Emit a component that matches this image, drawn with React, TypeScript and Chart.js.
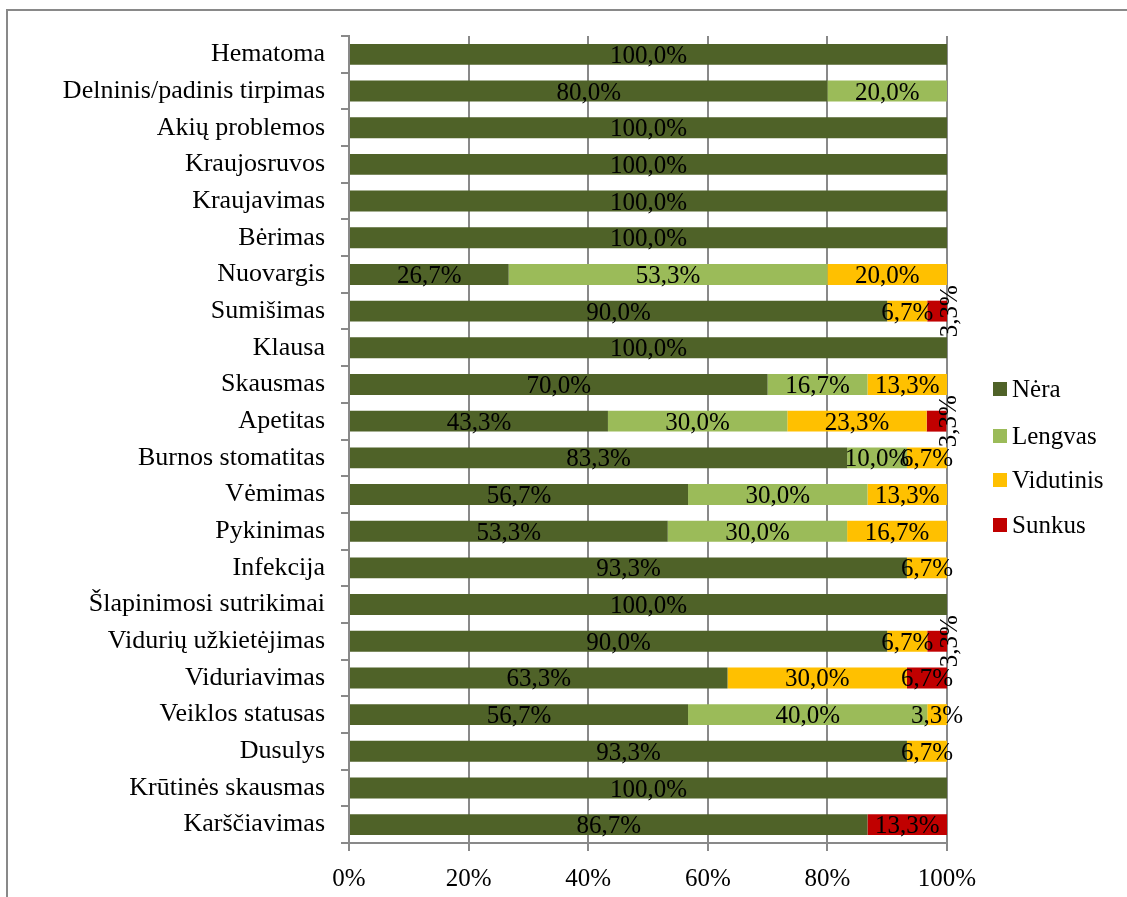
import React, { useEffect, useRef } from 'react';
import { Chart, registerables } from 'chart.js';

Chart.register(...registerables);

const categories = [
  'Hematoma',
  'Delninis/padinis tirpimas',
  'Akių problemos',
  'Kraujosruvos',
  'Kraujavimas',
  'Bėrimas',
  'Nuovargis',
  'Sumišimas',
  'Klausa',
  'Skausmas',
  'Apetitas',
  'Burnos stomatitas',
  'Vėmimas',
  'Pykinimas',
  'Infekcija',
  'Šlapinimosi sutrikimai',
  'Vidurių užkietėjimas',
  'Viduriavimas',
  'Veiklos statusas',
  'Dusulys',
  'Krūtinės skausmas',
  'Karščiavimas',
];

const nera = [100, 80, 100, 100, 100, 100, 26.7, 90, 100, 70, 43.3, 83.3, 56.7, 53.3, 93.3, 100, 90, 63.3, 56.7, 93.3, 100, 86.7];
const lengvas = [0, 20, 0, 0, 0, 0, 53.3, 0, 0, 16.7, 30, 10, 30, 30, 0, 0, 0, 0, 40, 0, 0, 0];
const vidutinis = [0, 0, 0, 0, 0, 0, 20, 6.7, 0, 13.3, 23.3, 6.7, 13.3, 16.7, 6.7, 0, 6.7, 30, 3.3, 6.7, 0, 0];
const sunkus = [0, 0, 0, 0, 0, 0, 0, 3.3, 0, 0, 3.3, 0, 0, 0, 0, 0, 3.3, 6.7, 0, 0, 0, 13.3];

const seriesNames = ['Nėra', 'Lengvas', 'Vidutinis', 'Sunkus'];
const seriesColors = ['#4F6228', '#9BBB59', '#FFC000', '#C00000'];
const xTickValues = [0, 20, 40, 60, 80, 100];

const FONT = '"Liberation Serif", "Times New Roman", serif';
const W = 1127;
const H = 897;

export default function App() {
  const ref = useRef<HTMLCanvasElement | null>(null);

  useEffect(() => {
    if (!ref.current) return;
    const seriesData = [nera, lengvas, vidutinis, sunkus];

    const framePlugin = {
      id: 'frame',
      beforeDraw(chart: any) {
        const ctx = chart.ctx;
        ctx.save();
        ctx.fillStyle = '#ffffff';
        ctx.fillRect(0, 0, chart.width, chart.height);
        ctx.strokeStyle = '#898989';
        ctx.lineWidth = 2;
        ctx.beginPath();
        ctx.moveTo(7, H + 5);
        ctx.lineTo(7, 10);
        ctx.lineTo(W + 5, 10);
        ctx.stroke();
        ctx.restore();
      },
    };

    const labelPlugin = {
      id: 'segLabels',
      afterDatasetsDraw(chart: any) {
        const ctx = chart.ctx;
        ctx.save();
        ctx.font = `25px ${FONT}`;
        ctx.fillStyle = '#000';
        ctx.textAlign = 'center';
        ctx.textBaseline = 'middle';
        chart.data.datasets.forEach((ds: any, i: number) => {
          const meta = chart.getDatasetMeta(i);
          meta.data.forEach((bar: any, j: number) => {
            const v = ds.data[j];
            if (!v) return;
            const p = bar.getProps(['x', 'y', 'base'], true);
            const cx = (p.x + p.base) / 2;
            const text = v.toFixed(1).replace('.', ',') + '%';
            if (i === 3 && v < 5) {
              ctx.save();
              ctx.translate(cx + 13, p.y);
              ctx.rotate(-Math.PI / 2);
              ctx.fillText(text, 0, 0);
              ctx.restore();
            } else {
              ctx.fillText(text, cx, p.y + 2);
            }
          });
        });
        ctx.restore();
      },
    };

    const legendPlugin = {
      id: 'customLegend',
      afterDraw(chart: any) {
        const ctx = chart.ctx;
        ctx.save();
        ctx.font = `25px ${FONT}`;
        ctx.textBaseline = 'middle';
        ctx.textAlign = 'left';
        const ys = [389, 436, 480, 525];
        seriesNames.forEach((n, i) => {
          ctx.fillStyle = seriesColors[i];
          ctx.fillRect(993, ys[i] - 7, 14, 14);
          ctx.fillStyle = '#000';
          ctx.fillText(n, 1012, ys[i] + 1);
        });
        ctx.restore();
      },
    };

    const chart = new Chart(ref.current, {
      type: 'bar',
      data: {
        labels: categories,
        datasets: seriesData.map((d, i) => ({
          label: seriesNames[i],
          data: d,
          backgroundColor: seriesColors[i],
          borderWidth: 0,
          barPercentage: 0.57,
          categoryPercentage: 1,
        })),
      },
      options: {
        indexAxis: 'y',
        responsive: false,
        animation: false,
        layout: { padding: { left: 0, right: 180, top: 36, bottom: 0 } },
        plugins: {
          legend: { display: false },
          tooltip: { enabled: false },
        },
        scales: {
          x: {
            stacked: true,
            min: 0,
            max: 100,
            afterBuildTicks(scale: any) {
              scale.ticks = xTickValues.map((v) => ({ value: v }));
            },
            afterFit(scale: any) {
              scale.height = 54;
            },
            ticks: {
              callback: (v: any) => `${v}%`,
              color: '#000',
              font: { family: FONT, size: 25 },
              padding: 13,
              maxRotation: 0,
            },
            grid: { color: '#898989', lineWidth: 2, tickLength: 8 },
            border: { color: '#898989', width: 2 },
          },
          y: {
            stacked: true,
            afterFit(scale: any) {
              scale.width = 349;
            },
            ticks: {
              color: '#000',
              font: { family: FONT, size: 26 },
              padding: 16,
              autoSkip: false,
            },
            grid: {
              offset: true,
              drawOnChartArea: false,
              drawTicks: true,
              tickLength: 8,
              color: '#898989',
              lineWidth: 2,
            },
            border: { color: '#898989', width: 2 },
          },
        },
      },
      plugins: [framePlugin, labelPlugin, legendPlugin],
    } as any);

    return () => chart.destroy();
  }, []);

  return (
    <div style={{ position: 'fixed', left: 0, top: 0, width: W, height: H, background: '#fff' }}>
      <canvas ref={ref} width={W} height={H} style={{ display: 'block', width: W, height: H }} />
    </div>
  );
}
